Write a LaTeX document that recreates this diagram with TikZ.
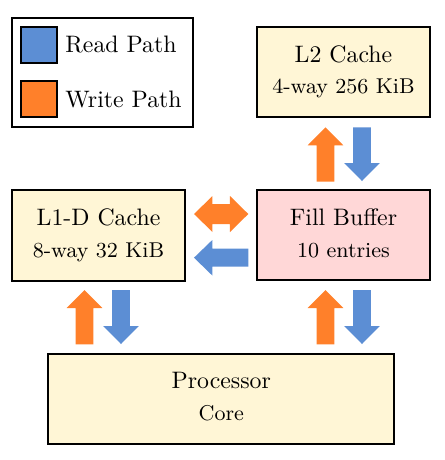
\documentclass[tikz,border=0pt]{standalone}
\definecolor{rdblue}{RGB}{92,142,212}
\definecolor{wrorange}{RGB}{255,128,42}
\definecolor{boxyellow}{RGB}{255,246,214}
\definecolor{boxpink}{RGB}{255,215,215}
\def\px{0.42pt}
\newcommand\ArrUp[4]{% colour, x centre, y tip, y bottom
  \fill[#1] (#2-17.8,#3+18) -- (#2,#3) -- (#2+17.8,#3+18) -- (#2+8.8,#3+18)
    -- (#2+8.8,#4) -- (#2-8.8,#4) -- (#2-8.8,#3+18) -- cycle;}
\newcommand\ArrDown[4]{% colour, x centre, y top, y tip
  \fill[#1] (#2-8.8,#3) -- (#2+8.8,#3) -- (#2+8.8,#4-18) -- (#2+17.8,#4-18)
    -- (#2,#4) -- (#2-17.8,#4-18) -- (#2-8.8,#4-18) -- cycle;}
\tikzset{
  box/.style={draw=black, line width=0.85pt, inner sep=0pt, outer sep=0pt},
  cachebox/.style={box, fill=boxyellow, minimum width={173*\px}, minimum height={90*\px}},
  swatch/.style={box, minimum width={36*\px}, minimum height={36*\px}},
  title/.style={anchor=base, inner sep=0pt},
  sub/.style={anchor=base, inner sep=0pt, font=\small},
  legtext/.style={anchor=base west, inner sep=0pt},
  rd/.style={fill=rdblue},
  wr/.style={fill=wrorange}
}
\begin{document}
\begin{tikzpicture}[x=0.42pt, y=-0.42pt]
\useasboundingbox (0,0) rectangle (445,460);
% legend
\node[box, fill=white, minimum width={181*\px}, minimum height={109*\px}] (legend) at (102.5,72.5) {};
\node[swatch, fill=rdblue] (swr) at (38.7,44.7) {};
\node[swatch, fill=wrorange] (sww) at (38.7,99) {};
\node[legtext] (tr) at (65,52.7) {Read Path};
\node[legtext] (tw) at (65,107.3) {Write Path};
% boxes
\node[cachebox] (l2) at (343.5,72) {};
\node[title] (l2a) at (343.5,62.7) {L2 Cache};
\node[sub] (l2b) at (343.5,93.3) {4-way 256 KiB};
\node[cachebox, minimum height={91*\px}] (l1) at (98.5,235.5) {};
\node[title] (l1a) at (98.5,225) {L1-D Cache};
\node[sub] (l1b) at (98.5,257.7) {8-way 32 KiB};
\node[cachebox, fill=boxpink] (fb) at (343.5,235) {};
\node[title] (fba) at (343.5,225) {Fill Buffer};
\node[sub] (fbb) at (343.5,257.7) {10 entries};
\node[cachebox, minimum width={346*\px}, minimum height={90*\px}] (core) at (221.3,399) {};
\node[title] (corea) at (221.3,388.3) {Processor};
\node[sub] (coreb) at (221.3,420.7) {Core};
% L2 <-> fill buffer
\ArrUp{wr}{325.5}{127.3}{181.5}
\ArrDown{rd}{362}{127.3}{181}
% L1 <-> fill buffer
\fill[wr] (194,214) -- (212.5,196) -- (212.5,204) -- (230,204) -- (230,196)
  -- (248.3,214) -- (230,232) -- (230,224) -- (212.5,224) -- (212.5,232) -- cycle;
\fill[rd] (194,257.7) -- (212.3,240) -- (212.3,248.7) -- (248.3,248.7)
  -- (248.3,266.7) -- (212.3,266.7) -- (212.3,275.5) -- cycle;
% core <-> L1
\ArrUp{wr}{84.5}{290}{344.3}
\ArrDown{rd}{121}{290}{344}
% core <-> fill buffer
\ArrUp{wr}{325.5}{290}{344.3}
\ArrDown{rd}{362}{290}{344}
\end{tikzpicture}
\end{document}
